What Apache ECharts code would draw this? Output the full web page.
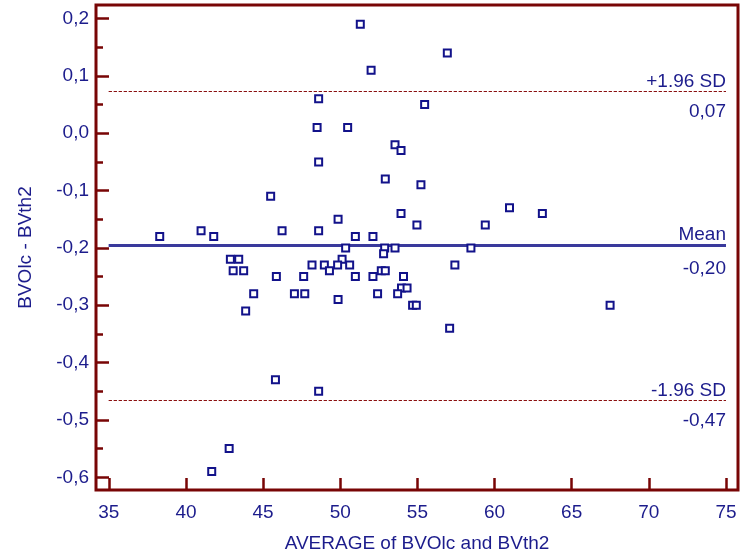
<!DOCTYPE html>
<html>
<head>
<meta charset="utf-8">
<script src="https://cdn.jsdelivr.net/npm/echarts@6/dist/echarts.min.js"></script>
<style>
  html, body { margin: 0; padding: 0; background: #fff; }
  #chart { width: 740px; height: 556px; }
</style>
</head>
<body>
<div id="chart"></div>
<script>
// Bland-Altman plot: difference vs. average of BVOlc and BVth2
const averages = [
  51.3, 56.94, 52.0, 48.6, 55.47, 48.5, 50.48, 53.55, 53.94, 48.6,
  52.92, 55.23, 45.49, 53.94, 54.97, 59.4, 49.86, 46.23, 48.6, 50.98,
  52.12, 50.35, 52.88, 53.55, 58.47, 52.81, 50.12, 48.17, 48.97, 49.83,
  50.61, 57.43, 49.3, 52.66, 52.92, 45.86, 47.63, 50.98, 52.12, 54.1,
  53.97, 54.33, 44.39, 47.03, 47.7, 52.42, 53.72, 49.86, 54.69, 54.93,
  57.09, 60.97, 63.1, 67.49, 38.3, 40.98, 41.8, 42.88, 43.42, 43.06,
  43.74, 43.87, 45.8, 48.6, 42.8, 41.67
];
const differences = [
  0.19, 0.14, 0.11, 0.06, 0.05, 0.01, 0.01, -0.02, -0.03, -0.05,
  -0.08, -0.09, -0.11, -0.14, -0.16, -0.16, -0.15, -0.17, -0.17, -0.18,
  -0.18, -0.20, -0.20, -0.20, -0.20, -0.21, -0.22, -0.23, -0.23, -0.23,
  -0.23, -0.23, -0.24, -0.24, -0.24, -0.25, -0.25, -0.25, -0.25, -0.25,
  -0.27, -0.27, -0.28, -0.28, -0.28, -0.28, -0.28, -0.29, -0.30, -0.30,
  -0.34, -0.13, -0.14, -0.30, -0.18, -0.17, -0.18, -0.22, -0.22, -0.24,
  -0.24, -0.31, -0.43, -0.45, -0.55, -0.59
];

// Mean difference and limits of agreement
const meanDiff = -0.196;
const upperLimit = 0.074;
const lowerLimit = -0.466;
const limitSpan = [35, 75];

// Axis ticks
const xTicks = [35, 40, 45, 50, 55, 60, 65, 70, 75];
const yTicks = [-0.6, -0.5, -0.4, -0.3, -0.2, -0.1, 0.0, 0.1, 0.2];
const yMinorTicks = [-0.55, -0.45, -0.35, -0.25, -0.15, -0.05, 0.05, 0.15];
const xRange = [34.17, 75.78];
const yRange = [-0.6222, 0.2236];

const frameColor = '#780505';
const textColor = '#1c1c8c';
const pointColor = '#12128a';
const meanColor = '#3a3a9c';
const font = '"Liberation Sans", Arial, Helvetica, sans-serif';
const fs = 19;

const comma = (v, d) => {
  const s = (Math.abs(v) < 1e-9 ? 0 : v).toFixed(d);
  return s.replace('.', ',');
};

const points = averages.map((a, i) => [a, differences[i]]);

function refLine(value, topText, isMean) {
  const style = isMean
    ? { color: meanColor, width: 3, type: 'solid' }
    : { color: '#8a1010', width: 1, type: [3, 2] };
  const start = [limitSpan[0], value];
  const end = [limitSpan[1], value];
  return [
    [
      { coord: start, lineStyle: style,
        label: { show: true, position: 'insideEndTop', formatter: topText,
                 color: textColor, fontSize: fs, fontFamily: font, distance: [0, isMean ? 1 : 0] } },
      { coord: end }
    ],
    [
      { coord: start, lineStyle: style,
        label: { show: true, position: 'insideEndBottom', formatter: comma(value, 2),
                 color: textColor, fontSize: fs, fontFamily: font, distance: [0, isMean ? 14 : 11] } },
      { coord: end }
    ]
  ];
}

const chart = echarts.init(document.getElementById('chart'), null, { renderer: 'canvas' });

chart.setOption({
  animation: false,
  backgroundColor: '#ffffff',
  grid: {
    left: 96, right: 2, top: 5, bottom: 66,
    outerBoundsMode: 'none',
    containLabel: false,
    show: true, borderColor: frameColor, borderWidth: 3, backgroundColor: 'transparent'
  },
  xAxis: {
    type: 'value',
    min: xRange[0], max: xRange[1],
    name: 'AVERAGE of BVOlc and BVth2',
    nameLocation: 'middle', nameGap: 44,
    nameTextStyle: { color: textColor, fontSize: fs, fontFamily: font },
    axisLine: { show: false, onZero: false },
    splitLine: { show: false },
    axisTick: { show: true, inside: true, length: 12, customValues: xTicks,
                lineStyle: { color: frameColor, width: 2.5 } },
    axisLabel: { show: true, customValues: xTicks, margin: 13,
                 color: textColor, fontSize: fs, fontFamily: font,
                 formatter: v => String(Math.round(v)) }
  },
  yAxis: [
    {
      type: 'value',
      min: yRange[0], max: yRange[1],
      name: 'BVOlc - BVth2',
      nameLocation: 'middle', nameGap: 61, nameRotate: 90,
      nameTextStyle: { color: textColor, fontSize: fs, fontFamily: font },
      axisLine: { show: false, onZero: false },
      splitLine: { show: false },
      axisTick: { show: true, inside: true, length: 13, customValues: yTicks,
                  lineStyle: { color: frameColor, width: 2.5 } },
      axisLabel: { show: true, customValues: yTicks, margin: 7,
                   color: textColor, fontSize: fs, fontFamily: font,
                   formatter: v => comma(v, 1) }
    },
    {
      type: 'value',
      position: 'left',
      min: yRange[0], max: yRange[1],
      axisLine: { show: false, onZero: false },
      splitLine: { show: false },
      axisLabel: { show: false },
      axisTick: { show: true, inside: true, length: 7, customValues: yMinorTicks,
                  lineStyle: { color: frameColor, width: 2.5 } }
    }
  ],
  series: [
    {
      type: 'scatter',
      data: points,
      symbol: 'rect',
      symbolSize: 7,
      itemStyle: { color: '#ffffff', borderColor: pointColor, borderWidth: 2, opacity: 1 },
      z: 5,
      markLine: {
        silent: true,
        symbol: 'none',
        animation: false,
        z: 3,
        data: [
          ...refLine(upperLimit, '+1.96 SD', false),
          ...refLine(meanDiff, 'Mean', true),
          ...refLine(lowerLimit, '-1.96 SD', false)
        ]
      }
    }
  ]
});
</script>
</body>
</html>
